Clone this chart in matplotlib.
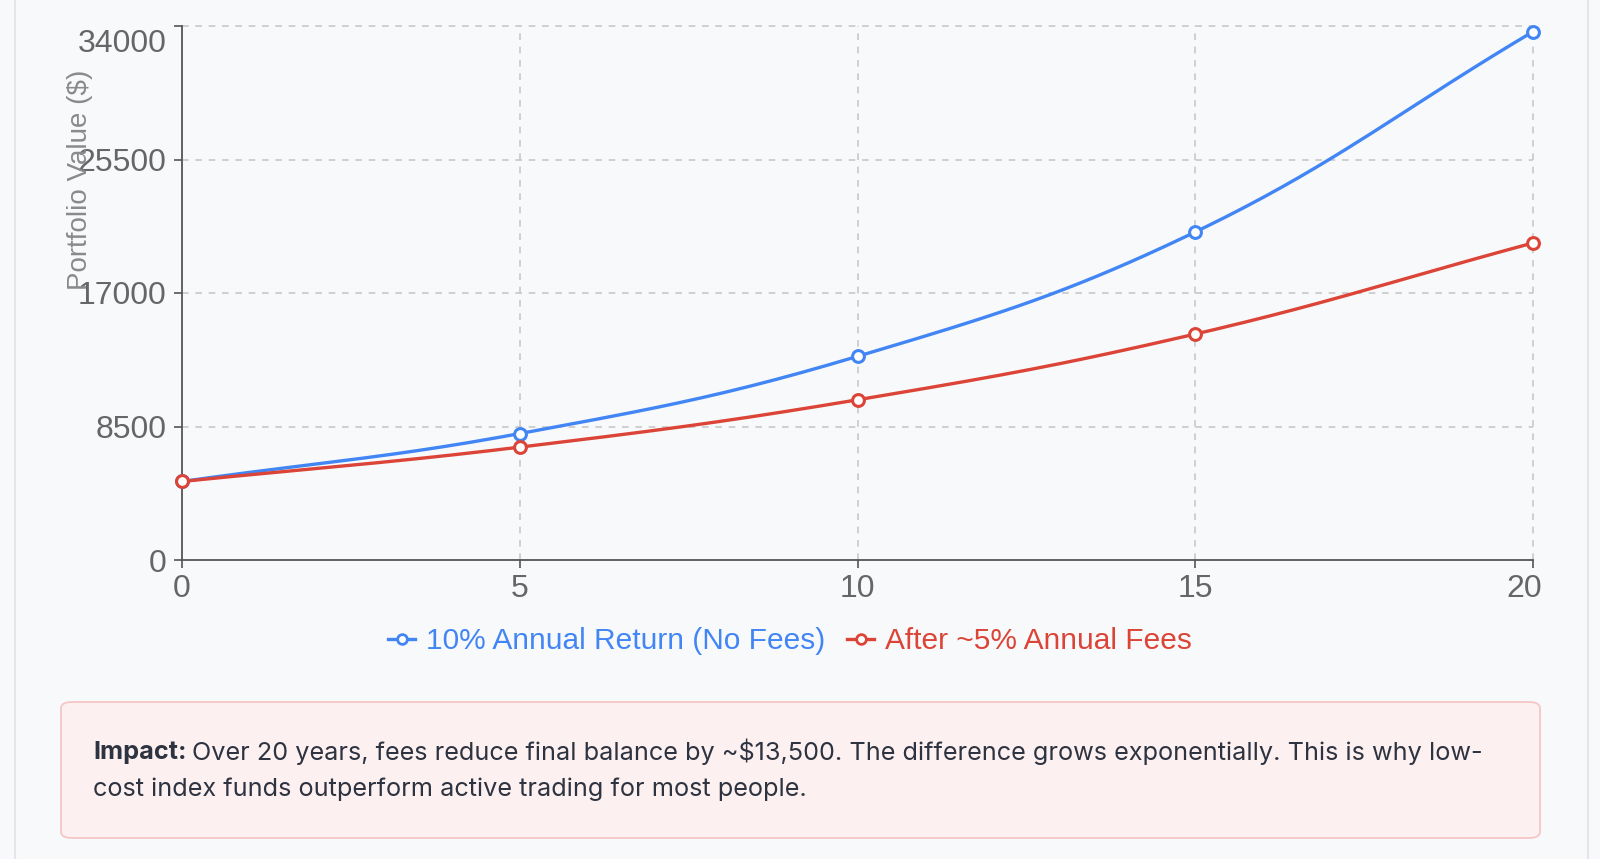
import numpy as np
import matplotlib
matplotlib.use("Agg")
import matplotlib.pyplot as plt
from matplotlib.lines import Line2D
from matplotlib.patches import FancyBboxPatch
from matplotlib.transforms import ScaledTranslation

# data
years = [0, 5, 10, 15, 20]
no_fees = [5000, 8050, 12965, 20885, 33640]
with_fees = [5000, 7186, 10200, 14386, 20187]
y_ticks = [0, 8500, 17000, 25500, 34000]
x_ticks = [0, 5, 10, 15, 20]
labels = ["10% Annual Return (No Fees)", "After ~5% Annual Fees"]
colors = ["#4285F4", "#DB4437"]

bg = "#f8f9fb"
plt.rcParams['font.family'] = ['Liberation Sans', 'DejaVu Sans']

fig = plt.figure(figsize=(16, 8.59), dpi=100, facecolor=bg)
W, H = 1600, 859

def fx(px):
    return px / W

def fy(py):
    return 1 - py / H

# page borders
fig.add_artist(Line2D([fx(15), fx(15)], [0, 1], color="#e3e5ea", lw=1.5))
fig.add_artist(Line2D([fx(1588), fx(1588)], [0, 1], color="#e3e5ea", lw=1.5))

ax = fig.add_axes([fx(182), fy(560), fx(1533) - fx(182), (560 - 26) / H])
ax.set_facecolor(bg)
ax.set_xlim(0, 20)
ax.set_ylim(0, 34000)
ax.set_xticks(x_ticks)
ax.set_yticks(y_ticks)
ax.set_xticklabels([str(v) for v in x_ticks])
ax.set_yticklabels([str(v) for v in y_ticks])

for s in ["top", "right"]:
    ax.spines[s].set_visible(False)
for s in ["left", "bottom"]:
    ax.spines[s].set_color("#555555")
    ax.spines[s].set_linewidth(1.3)

ax.tick_params(axis="both", colors="#555555", labelcolor="#666666", labelsize=23,
               length=6, width=1.2)
ax.tick_params(axis="y", pad=5)
ax.tick_params(axis="x", pad=4)

# dashed grid, skipping the lines that sit on the axes
for v in y_ticks[1:]:
    ax.axhline(v, color="#c8c8c8", lw=1.2, ls=(0, (4, 4)), zorder=0.5, clip_on=False)
for v in x_ticks[1:]:
    ax.axvline(v, color="#c8c8c8", lw=1.2, ls=(0, (4, 4)), zorder=0.5, clip_on=False)

# top y label sits pushed down, last x label pulled left
top_lbl = ax.yaxis.get_major_ticks()[-1].label1
top_lbl.set_verticalalignment("top")
top_lbl.set_transform(top_lbl.get_transform() + ScaledTranslation(0, -3 / 100, fig.dpi_scale_trans))
last_x = ax.xaxis.get_major_ticks()[-1].label1
last_x.set_transform(last_x.get_transform() + ScaledTranslation(-9 / 100, 0, fig.dpi_scale_trans))


def smooth(xs, ys, t=0.4, n=40):
    # chart.js style bezier spline, worked out in pixel space
    pts = ax.transData.transform(np.column_stack([xs, ys]))
    k = len(pts)
    cps = []
    for i in range(k):
        prev = pts[max(i - 1, 0)]
        cur = pts[i]
        nxt = pts[min(i + 1, k - 1)]
        d01 = np.hypot(*(cur - prev))
        d12 = np.hypot(*(nxt - cur))
        s01 = d01 / (d01 + d12)
        s12 = d12 / (d01 + d12)
        cps.append((cur - t * s01 * (nxt - prev), cur + t * s12 * (nxt - prev)))
    out = [pts[0]]
    u = np.linspace(0, 1, n)[1:, None]
    for i in range(k - 1):
        p0, p1, p2, p3 = pts[i], cps[i][1], cps[i + 1][0], pts[i + 1]
        seg = ((1 - u) ** 3) * p0 + 3 * ((1 - u) ** 2) * u * p1 + 3 * (1 - u) * u ** 2 * p2 + u ** 3 * p3
        out.extend(seg)
    out = ax.transData.inverted().transform(np.array(out))
    return out[:, 0], out[:, 1]


for ys, c in zip([no_fees, with_fees], colors):
    sx, sy = smooth(years, ys)
    ax.plot(sx, sy, color=c, lw=2.4, zorder=3, clip_on=False, solid_capstyle="round")
    ax.plot(years, ys, "o", ms=8.5, mfc="white", mec=c, mew=2.2, zorder=4, clip_on=False)

fig.text(fx(80), fy(180), "Portfolio Value ($)", rotation=90, ha="center", va="center",
         fontsize=20, color="#8a8a8a")

# legend
handles = [Line2D([0], [0], color=c, lw=2.4, marker="o", ms=7, mfc="white", mec=c, mew=2.0)
           for c in colors]
leg = fig.legend(handles, labels, loc="center", bbox_to_anchor=(fx(790), fy(641)), ncol=2,
                 frameon=False, fontsize=21.5, handlelength=0.9, handletextpad=0.35,
                 columnspacing=0.75)
for txt, c in zip(leg.get_texts(), colors):
    txt.set_color(c)

# impact note box
box = FancyBboxPatch((fx(61), fy(838)), fx(1540) - fx(61), (838 - 702) / H,
                     boxstyle="round,pad=0,rounding_size=0.007", transform=fig.transFigure,
                     facecolor="#fdf0f0", edgecolor="#f6c6c6", lw=1.3)
fig.add_artist(box)

note_font = ["Inter", "DejaVu Sans"]
t1 = fig.text(fx(93), fy(752), "Impact:", fontsize=18.2, fontweight="bold", color="#2d3340",
              family=note_font, va="center")
fig.canvas.draw()
bb = t1.get_window_extent()
fig.text(bb.x1 / W + fx(6), fy(752),
         "Over 20 years, fees reduce final balance by ~$13,500. The difference grows exponentially. This is why low-",
         fontsize=18.2, color="#2d3340", family=note_font, va="center")
fig.text(fx(93), fy(789), "cost index funds outperform active trading for most people.",
         fontsize=18.2, color="#2d3340", family=note_font, va="center")

fig.savefig("out.png", dpi=100, facecolor=bg)
